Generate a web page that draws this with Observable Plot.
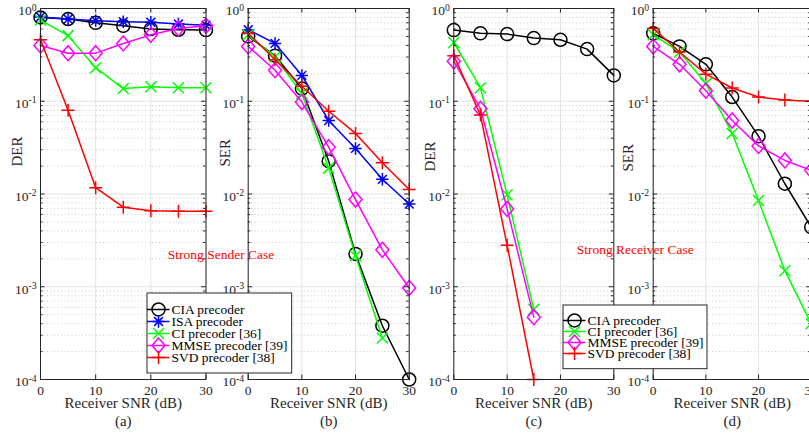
<!DOCTYPE html>
<html><head><meta charset="utf-8">
<script src="https://cdn.jsdelivr.net/npm/d3@7"></script>
<script src="https://cdn.jsdelivr.net/npm/@observablehq/plot@0.6"></script>
<style>
html,body{margin:0;padding:0;background:#fff;}
#chart{position:relative;width:809px;height:442px;overflow:hidden;background:#fff;}
</style></head><body><div id="chart"></div>
<script>
// ---------- data ----------
const snr = [0, 5, 10, 15, 20, 25, 30];
const xTicks = [0, 10, 20, 30];
const yTicks = [1e-4, 1e-3, 1e-2, 1e-1, 1];
const yTickExponents = ["-4", "-3", "-2", "-1", "0"];
const yMinorTicks = [2,3,4,5,6,7,8,9].flatMap(m => [1e-4,1e-3,1e-2,1e-1].map(d => m * d));

const names = ["CIA precoder", "ISA precoder", "CI precoder [36]", "MMSE precoder [39]", "SVD precoder [38]"];
const colors = ["#000000", "#0000ff", "#00ff00", "#ff00ff", "#ff0000"];
const captions = ["(a)", "(b)", "(c)", "(d)"];
const yLabels = ["DER", "SER", "DER", "SER"];
const caseLabels = ["Strong Sender Case", "Strong Receiver Case"];
const xLabel = "Receiver SNR (dB)";

// (a) DER, strong sender
const aCIA  = [0.80, 0.77, 0.70, 0.65, 0.60, 0.59, 0.585];
const aISA  = [0.81, 0.77, 0.74, 0.72, 0.71, 0.68, 0.66];
const aCI   = [0.75, 0.51, 0.23, 0.137, 0.143, 0.14, 0.14];
const aMMSE = [0.40, 0.33, 0.33, 0.42, 0.52, 0.61, 0.65];
const aSVD  = [0.46, 0.080, 0.0117, 0.0072, 0.0066, 0.0065, 0.0065];
// (b) SER, strong sender
const bCIA  = [0.50, 0.31, 0.137, 0.0226, 0.00226, 0.00038, 0.0001];
const bISA  = [0.59, 0.42, 0.19, 0.062, 0.031, 0.0144, 0.0078];
const bCI   = [0.52, 0.30, 0.121, 0.019, 0.00216, 0.00028];
const bMMSE = [0.39, 0.216, 0.098, 0.032, 0.0087, 0.0025, 0.00097];
const bSVD  = [0.54, 0.28, 0.145, 0.078, 0.045, 0.0217, 0.0112];
// (c) DER, strong receiver
const cCIA  = [0.585, 0.54, 0.53, 0.48, 0.46, 0.365, 0.19];
const cCI   = [0.43, 0.14, 0.0098, 0.00057];
const cMMSE = [0.27, 0.083, 0.0069, 0.00047];
const cSVD  = [0.31, 0.071, 0.0028, 0.0001];
// (d) SER, strong receiver
const dCIA  = [0.54, 0.39, 0.25, 0.111, 0.042, 0.0129, 0.0044];
const dCI   = [0.52, 0.34, 0.155, 0.045, 0.0085, 0.00149, 0.0004];
const dMMSE = [0.39, 0.25, 0.13, 0.062, 0.033, 0.023, 0.018];
const dSVD  = [0.61, 0.34, 0.196, 0.139, 0.111, 0.103, 0.100];

// ---------- marker symbols (MATLAB style) ----------
const symCircle = {draw(c){ c.moveTo(6.5,0); c.arc(0,0,6.5,0,2*Math.PI); }};
const symAsterisk = {draw(c){ const a=6.2, b=4.4;
  c.moveTo(-a,0); c.lineTo(a,0); c.moveTo(0,-a); c.lineTo(0,a);
  c.moveTo(-b,-b); c.lineTo(b,b); c.moveTo(-b,b); c.lineTo(b,-b); }};
const symTimes = {draw(c){ const a=5.5; c.moveTo(-a,-a); c.lineTo(a,a); c.moveTo(-a,a); c.lineTo(a,-a); }};
const symDiamond = {draw(c){ c.moveTo(0,-7.5); c.lineTo(6.5,0); c.lineTo(0,7.5); c.lineTo(-6.5,0); c.closePath(); }};
const symPlus = {draw(c){ const a=6.5; c.moveTo(-a,0); c.lineTo(a,0); c.moveTo(0,-a); c.lineTo(0,a); }};
const symbols = [symCircle, symAsterisk, symTimes, symDiamond, symPlus];

// ---------- layout ----------
const W = 815, H = 442, MT = 8, MB = 63;
const FONT = "'Liberation Serif', 'Times New Roman', serif";
const panels = [
  {left: 40,    right: 205.5, yLabelX: 17,  yLabelY: 166, series: [[0,aCIA],[1,aISA],[2,aCI],[3,aMMSE],[4,aSVD]], note: 0, noteX: 220.5, noteY: 254},
  {left: 247.7, right: 408.7, yLabelX: 225, yLabelY: 166, series: [[0,bCIA],[1,bISA],[2,bCI],[3,bMMSE],[4,bSVD]]},
  {left: 453.3, right: 613.3, yLabelX: 430, yLabelY: 171, series: [[0,cCIA],[2,cCI],[3,cMMSE],[4,cSVD]], note: 1, noteX: 634.7, noteY: 249},
  {left: 652.7, right: 810.7, yLabelX: 628, yLabelY: 171, series: [[0,dCIA],[2,dCI],[3,dMMSE],[4,dSVD]]}
];

const chart = document.getElementById("chart");

panels.forEach((p, k) => {
  const pw = p.right - p.left, ph = H - MT - MB;
  const midY = MT + ph / 2;
  const marks = [
    Plot.ruleY(yMinorTicks, {stroke: "#bdbdbd", strokeDasharray: "1,2.5", strokeWidth: 0.8}),
    Plot.ruleY(yTicks, {stroke: "#e3e3e3", strokeWidth: 1}),
    Plot.ruleX(xTicks, {stroke: "#e3e3e3", strokeWidth: 1}),
  ];
  if (p.note !== undefined) {
    marks.push(Plot.text([caseLabels[p.note]], {frameAnchor: "left", dx: p.noteX - p.left, dy: p.noteY - midY,
      fill: "#ff0000", fontSize: 13.5, textAnchor: "middle"}));
  }
  p.series.forEach(([si, vals]) => {
    marks.push(Plot.line(vals, {x: (d, i) => snr[i], y: d => d, stroke: colors[si], strokeWidth: 1.5}));
    marks.push(Plot.dot(vals, {x: (d, i) => snr[i], y: d => d, stroke: colors[si], fill: "none", strokeWidth: 1.5, symbol: symbols[si], r: 6}));
  });
  marks.push(
    // inward ticks
    Plot.ruleY(yTicks, {insetRight: pw - 4.5, stroke: "#262626"}),
    Plot.ruleY(yTicks, {insetLeft: pw - 4.5, stroke: "#262626"}),
    Plot.ruleY(yMinorTicks, {insetRight: pw - 2.5, stroke: "#262626"}),
    Plot.ruleY(yMinorTicks, {insetLeft: pw - 2.5, stroke: "#262626"}),
    Plot.ruleX(xTicks, {insetTop: ph - 4.5, stroke: "#262626"}),
    Plot.ruleX(xTicks, {insetBottom: ph - 4.5, stroke: "#262626"}),
    Plot.frame({stroke: "#262626", strokeWidth: 1}),
    Plot.axisY(yTicks, {tickSize: 0, tickPadding: 4, dy: 2.5, fontSize: 13.5, fill: "#262626",
      tickFormat: v => "10|" + yTickExponents[yTicks.indexOf(v)], label: null}),
    Plot.axisX(xTicks, {tickSize: 0, tickPadding: 6, fontSize: 13.5, fill: "#262626", label: null}),
    Plot.text([yLabels[k]], {frameAnchor: "left", dx: p.yLabelX - p.left, dy: p.yLabelY - midY, rotate: -90, fontSize: 15, fill: "#262626"}),
    Plot.text([xLabel], {frameAnchor: "bottom", dy: 28.5, fontSize: 15, fill: "#262626"}),
    Plot.text([captions[k]], {frameAnchor: "bottom", dy: 46.5, fontSize: 15, fill: "#262626"})
  );
  const svg = Plot.plot({
    width: W, height: H,
    marginLeft: p.left, marginRight: W - p.right, marginTop: MT, marginBottom: MB,
    x: {type: "linear", domain: [0, 30], axis: null},
    y: {type: "log", domain: [1e-4, 1], axis: null},
    style: {background: "transparent", overflow: "visible", fontFamily: FONT, color: "#262626",
      position: "absolute", left: "0px", top: "0px", maxWidth: "none"},
    marks
  });
  d3.select(svg).selectAll('g[aria-label="y-axis tick label"] text').each(function() {
    const t = d3.select(this);
    const parts = t.text().split("|");
    t.text(null);
    t.append("tspan").text(parts[0]);
    t.append("tspan").attr("dy", "-0.48em").attr("font-size", "0.72em").text(parts[1]);
  });
  chart.appendChild(svg);
});

// ---------- legends ----------
function legend(idx, left, top, w, h, rowTop, rowBottom) {
  const items = idx.map(i => names[i]);
  const marks = [Plot.frame({fill: "white", stroke: "#262626", inset: 0.5})];
  idx.forEach(i => {
    marks.push(
      Plot.ruleY([names[i]], {y: d => d, x1: 1, x2: 23.5, stroke: colors[i], strokeWidth: 1.5}),
      Plot.dot([names[i]], {x: 12, y: d => d, symbol: symbols[i], stroke: colors[i], fill: "none", strokeWidth: 1.5, r: 6}),
      Plot.text([names[i]], {x: 25, y: d => d, text: d => d, textAnchor: "start", fontSize: 13.5, fill: "#000"})
    );
  });
  const svg = Plot.plot({
    width: w, height: h, margin: 0,
    x: {type: "linear", domain: [0, w], range: [0, w], axis: null},
    y: {type: "point", domain: items, range: [rowTop, rowBottom], axis: null},
    style: {background: "transparent", overflow: "visible", fontFamily: FONT,
      position: "absolute", left: left + "px", top: top + "px", maxWidth: "none"},
    marks
  });
  chart.appendChild(svg);
}
legend([0,1,2,3,4], 146, 292.3, 145.7, 81, 8.4, 72.7);
legend([0,2,3,4], 561.7, 304.3, 145, 64.7, 9, 56);
</script></body></html>
